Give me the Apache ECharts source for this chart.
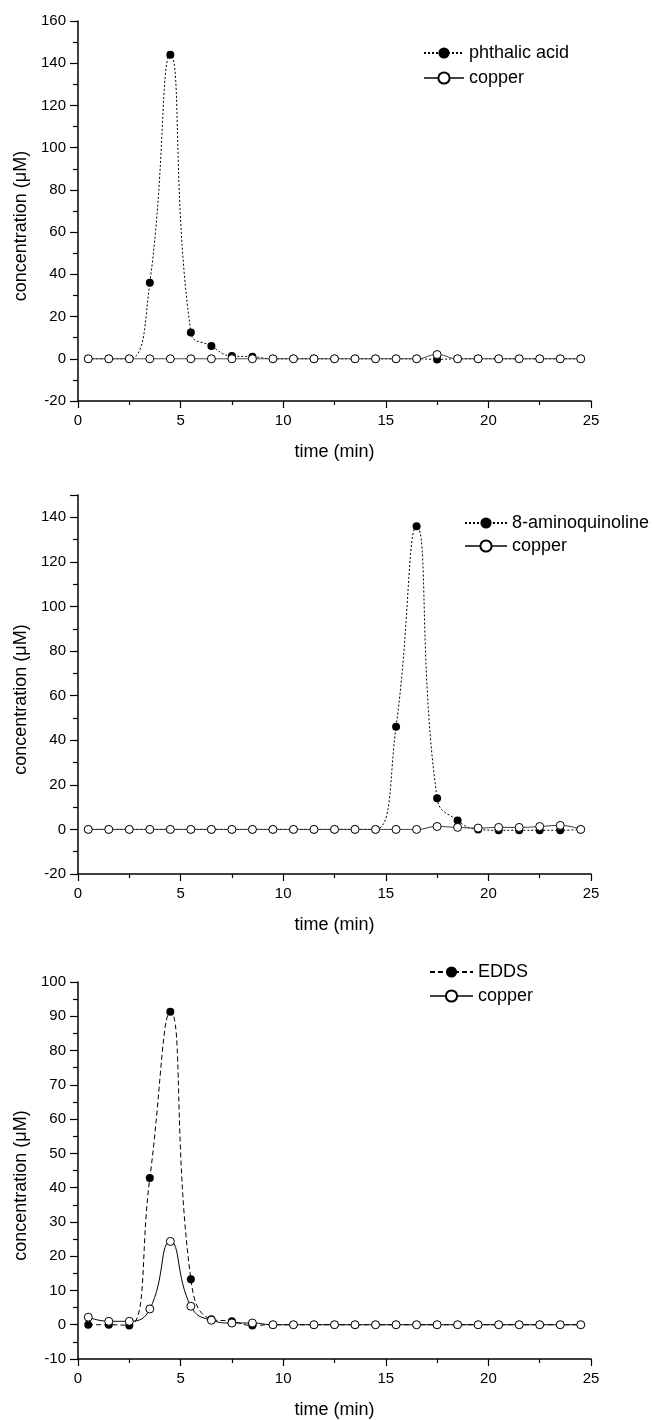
<!DOCTYPE html>
<html>
<head>
<meta charset="utf-8">
<script src="https://cdn.jsdelivr.net/npm/echarts@6/dist/echarts.min.js"></script>
<style>
html, body { margin: 0; padding: 0; background: #fff; }
#chart { width: 653px; height: 1420px; }
</style>
</head>
<body>
<div id="chart"></div>
<script type="text/javascript">
// sampling times (min)
var times = [0.5, 1.5, 2.5, 3.5, 4.5, 5.5, 6.5, 7.5, 8.5, 9.5, 10.5, 11.5, 12.5,
	13.5, 14.5, 15.5, 16.5, 17.5, 18.5, 19.5, 20.5, 21.5, 22.5, 23.5, 24.5];

// panel 1
var phthalic = [0, 0, 0, 36, 144, 12.5, 6, 1.3, 1, 0, 0, 0, 0,
	0, 0, 0, 0, -0.3, 0, 0, 0, 0, 0, 0, 0];
var copper1 = [0, 0, 0, 0, 0, 0, 0, 0, 0, 0, 0, 0, 0,
	0, 0, 0, 0, 2, 0, 0, 0, 0, 0, 0, 0];

// panel 2
var aminoquinoline = [0, 0, 0, 0, 0, 0, 0, 0, 0, 0, 0, 0, 0,
	0, 0, 46, 136, 14, 4, 0, -0.4, -0.4, -0.4, -0.4, 0];
var copper2 = [0, 0, 0, 0, 0, 0, 0, 0, 0, 0, 0, 0, 0,
	0, 0, 0, 0, 1.3, 0.9, 0.6, 0.9, 0.9, 1.3, 1.8, 0];

// panel 3
var edds = [0, 0, -0.2, 42.8, 91.3, 13.3, 1.6, 1.0, -0.2, 0, 0, 0, 0,
	0, 0, 0, 0, 0, 0, 0, 0, 0, 0, 0, 0];
var copper3 = [2.2, 1.0, 1.0, 4.6, 24.3, 5.4, 1.3, 0.5, 0.5, 0, 0, 0, 0,
	0, 0, 0, 0, 0, 0, 0, 0, 0, 0, 0, 0];

var xTicks = [0, 5, 10, 15, 20, 25];

var FONT = '"Liberation Sans", Arial, sans-serif';

function pairs(vals){
	return times.map(function(t, i){ return [t, vals[i]]; });
}

function xAxis(idx){
	return {
		type: 'value', gridIndex: idx,
		min: xTicks[0], max: xTicks[xTicks.length - 1], interval: 5,
		name: 'time (min)', nameLocation: 'middle', nameGap: 42,
		nameTextStyle: { fontFamily: FONT, fontSize: 18, color: '#000' },
		axisLine: { onZero: false, lineStyle: { color: '#000', width: 1.5 } },
		axisTick: { inside: false, length: 7, lineStyle: { color: '#000', width: 1.2 } },
		minorTick: { show: true, splitNumber: 2, length: 4, lineStyle: { color: '#000', width: 1.2 } },
		axisLabel: { fontFamily: FONT, fontSize: 15, color: '#000', margin: 12 },
		splitLine: { show: false }
	};
}

function yAxis(idx, min, max, interval){
	return {
		type: 'value', gridIndex: idx,
		min: min, max: max, interval: interval,
		name: 'concentration (\u03bcM)', nameLocation: 'middle', nameGap: 44,
		nameTextStyle: { fontFamily: FONT, fontSize: 18, color: '#000', padding: [0, 30, 0, 0] },
		axisLine: { onZero: false, lineStyle: { color: '#000', width: 1.5 } },
		axisTick: { inside: false, length: 8, lineStyle: { color: '#000', width: 1.2 } },
		minorTick: { show: true, splitNumber: 2, length: 5, lineStyle: { color: '#000', width: 1.2 } },
		axisLabel: { fontFamily: FONT, fontSize: 15, color: '#000', margin: 12, showMaxLabel: max % interval === 0 },
		splitLine: { show: false }
	};
}

function ligand(name, idx, vals, dash){
	return {
		name: name, type: 'line', xAxisIndex: idx, yAxisIndex: idx,
		data: pairs(vals), smooth: true,
		symbol: 'circle', symbolSize: 8, showSymbol: true, showAllSymbol: true,
		itemStyle: { color: '#000' },
		lineStyle: { color: '#000', width: 1, type: dash },
		z: 2, animation: false
	};
}

function copper(idx, vals, col){
	return {
		name: 'copper', type: 'line', xAxisIndex: idx, yAxisIndex: idx,
		data: pairs(vals), smooth: true,
		symbol: 'circle', symbolSize: 8, showSymbol: true, showAllSymbol: true,
		itemStyle: { color: '#fff', borderColor: '#000', borderWidth: 1 },
		lineStyle: { color: col, width: 1, type: 'solid' },
		z: 3, animation: false
	};
}

function legend(names, left, top, itemWidth, gap){
	return {
		orient: 'vertical', left: left, top: top,
		data: names,
		itemWidth: itemWidth, itemHeight: 14, itemGap: gap,
		textStyle: { fontFamily: FONT, fontSize: 18, color: '#000', lineHeight: 18 },
		selectedMode: false
	};
}

var option = {
	backgroundColor: '#fff',
	animation: false,
	grid: [
		{ left: 78, top: 21, width: 513, height: 380 },
		{ left: 78, top: 495, width: 513, height: 379 },
		{ left: 78, top: 982, width: 513, height: 380 }
	],
	xAxis: [xAxis(0), xAxis(1), xAxis(2)],
	yAxis: [yAxis(0, -20, 160, 20), yAxis(1, -20, 150, 20), yAxis(2, -10, 100, 10)],
	legend: [
		legend(['phthalic acid', 'copper'], 418, 39, 40, 7),
		legend(['8-aminoquinoline', 'copper'], 459, 509, 42, 5),
		legend(['EDDS', 'copper'], 424, 958, 43, 6)
	],
	series: [
		ligand('phthalic acid', 0, phthalic, [2, 2]),
		copper(0, copper1, '#444'),
		ligand('8-aminoquinoline', 1, aminoquinoline, [2, 2]),
		copper(1, copper2, '#333'),
		ligand('EDDS', 2, edds, [5, 3]),
		copper(2, copper3, '#000')
	]
};

var myChart = echarts.init(document.getElementById('chart'));
myChart.setOption(option);
</script>
</body>
</html>
